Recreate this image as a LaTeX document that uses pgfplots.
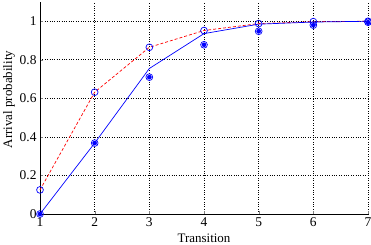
\documentclass[border=0pt]{standalone}
\usepackage{fontspec}
\setmainfont{Liberation Serif}
\usepackage{pgfplots}
\usetikzlibrary{calc}
\pgfplotsset{compat=1.18}
\begin{document}
\fontsize{13}{16}\selectfont
\begin{tikzpicture}
\begin{axis}[
  scale only axis,
  width=328bp, height=212bp,
  xmin=1, xmax=7, ymin=0, ymax=1.1,
  axis x line=bottom, axis y line=left,
  axis line style={-, line width=0.8pt},
  xtick={1,...,7}, ytick={0,0.2,0.4,0.6,0.8,1},
  yticklabels={0,0.2,0.4,0.6,0.8,1},
  tick align=inside, major tick length=3bp,
  grid=major, grid style={black, dotted, line width=0.8pt},
  /pgf/number format/assume math mode=true,
  xlabel={Transition}, ylabel={Arrival probability},
  xlabel style={at={($(axis description cs:0.5,0)+(0,-24bp)$)}, anchor=center},
  ylabel style={at={($(axis description cs:0,0.54)+(-31bp,0)$)}, anchor=center, rotate=0},
  xticklabel style={yshift=1bp},
  yticklabel style={xshift=1bp},
  tick label style={font=\fontsize{13.5}{16}\selectfont},
  label style={font=\fontsize{13}{16}\selectfont},
  clip=false,
]
\addplot[red, densely dashed, line width=0.7pt, mark=o, mark options={blue, solid, line width=0.7pt}, mark size=3.4bp] coordinates {
(1,0.125) (2,0.632) (3,0.865) (4,0.952) (5,0.988) (6,0.998) (7,1.0)};
\addplot[blue, line width=0.7pt] coordinates {
(1,0) (2,0.368) (3,0.755) (4,0.936) (5,0.985) (6,0.996) (7,1.0)};
\addplot[only marks, blue, mark=o, mark size=3.4bp, line width=0.7pt] coordinates {
(1,0) (2,0.368) (3,0.71) (4,0.878) (5,0.948) (6,0.98) (7,0.995)};
\addplot[only marks, blue, mark=*, mark size=2.1bp] coordinates {
(1,0) (2,0.368) (3,0.71) (4,0.878) (5,0.948) (6,0.98) (7,0.995)};
\end{axis}
\pgfresetboundingbox
\path[use as bounding box] ($(current axis.south west)+(-40bp,-30bp)$) rectangle ($(current axis.north east)+(3bp,2bp)$);
\end{tikzpicture}
\end{document}
